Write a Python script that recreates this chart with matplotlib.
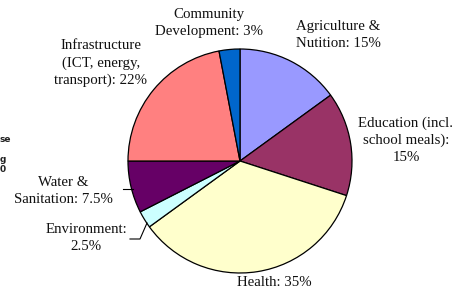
import matplotlib
matplotlib.use("Agg")
import matplotlib.pyplot as plt

categories = ["Agriculture &\nNutition: 15%", "Education (incl.\nschool meals):\n15%", "Health: 35%",
              "Environment:\n2.5%", "Water &\nSanitation: 7.5%",
              "Infrastructure\n(ICT, energy,\ntransport): 22%", "Community\nDevelopment: 3%"]
values = [15, 15, 35, 2.5, 7.5, 22, 3]
colors = ["#9999FF", "#993366", "#FFFFCC", "#CCFFFF", "#660066", "#FF8080", "#0066CC"]

W, H = 453, 299
fig = plt.figure(figsize=(W / 100, H / 100), dpi=100)
ax = fig.add_axes([0, 0, 1, 1])

cx, cy, r = 240, H - 161, 112
ax.pie(values, colors=colors, startangle=90, counterclock=False, center=(cx, cy), radius=r,
       wedgeprops=dict(edgecolor="black", linewidth=0.9))
ax.set_xlim(0, W)
ax.set_ylim(0, H)
ax.set_aspect("equal")
ax.axis("off")

font = dict(family=["Liberation Serif", "DejaVu Serif"], fontsize=10.7, color="#111111",
            ha="center", va="center", linespacing=1.38)
label_pos = [(338, 35), (406, 140), (274, 283), (86, 238), (63, 191), (101, 63), (209, 23)]
for lab, (x, y) in zip(categories, label_pos):
    ax.text(x, H - y, lab, **font)

# leader lines
ax.plot([123, 133], [H - 189, H - 189], color="black", lw=0.8)
ax.plot([130, 140, 147], [H - 239, H - 239, H - 223], color="black", lw=0.8)

# cut-off text at left edge
side = dict(family="DejaVu Sans", fontsize=6.5, color="#222222", ha="right", va="center",
            fontweight="bold")
ax.text(11, H - 139, "se", **side)
ax.text(6, H - 159, "g", **side)
ax.text(6, H - 170, "0", **side)

fig.savefig("out.png", dpi=100)
